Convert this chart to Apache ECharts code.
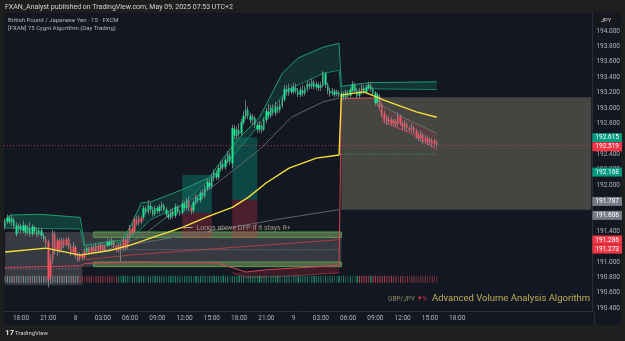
<!DOCTYPE html>
<html>
<head>
<meta charset="utf-8">
<script src="https://cdn.jsdelivr.net/npm/echarts@6/dist/echarts.min.js"></script>
<style>
html,body{margin:0;padding:0;background:#1e1e1e}
#main{width:625px;height:341px}
</style>
</head>
<body>
<div id="main"></div>
<script>
// GBPJPY 15m, slots are 15-minute bars; slot 0 = 16:15 of the 7th
const SLOTS = 259
const tickLabels = ['18:00','21:00','8','03:00','06:00','09:00','12:00','15:00','18:00','21:00','9','03:00','06:00','09:00','12:00','15:00','18:00']
const TICK_START = 7, TICK_STEP = 12

// [open, close, low, high, tone]  tone = bar colour from the algo (g / r)
const candles = [
[191.45,191.53,191.42,191.56,'g'],[191.52,191.58,191.49,191.62,'g'],[191.57,191.52,191.49,191.60,'g'],[191.51,191.57,191.47,191.61,'g'],
[191.55,191.47,191.43,191.58,'g'],[191.36,191.48,191.33,191.52,'g'],[191.47,191.42,191.38,191.50,'g'],[191.40,191.47,191.37,191.50,'g'],
[191.40,191.48,191.37,191.54,'g'],[191.47,191.38,191.34,191.50,'g'],[191.38,191.45,191.35,191.48,'g'],[191.44,191.36,191.33,191.52,'g'],
[191.36,191.46,191.34,191.49,'g'],[191.45,191.40,191.36,191.47,'g'],[191.41,191.36,191.32,191.44,'g'],[191.36,191.42,191.33,191.45,'g'],
[191.41,191.34,191.30,191.44,'g'],[191.34,191.30,191.26,191.38,'g'],
[191.30,191.24,191.20,191.33,'r'],[191.26,190.76,190.67,191.29,'r'],[190.80,191.02,190.72,191.10,'r'],[191.02,191.38,190.98,191.42,'r'],
[191.36,191.14,191.10,191.40,'r'],[191.15,191.28,191.08,191.31,'r'],[191.28,191.16,191.12,191.30,'r'],[191.18,191.29,191.14,191.32,'r'],
[191.29,191.22,191.18,191.31,'r'],[191.22,191.30,191.20,191.32,'r'],[191.30,191.20,191.16,191.33,'r'],[191.20,191.12,191.08,191.24,'r'],
[191.13,191.20,191.10,191.26,'r'],[191.19,191.08,191.04,191.22,'r'],[191.08,191.03,191.00,191.12,'r'],
[191.04,191.10,191.01,191.13,'r'],[191.09,191.05,191.02,191.12,'r'],[191.06,191.14,191.04,191.17,'r'],[191.13,191.18,191.10,191.21,'g'],
[191.17,191.12,191.10,191.20,'r'],[191.12,191.19,191.10,191.22,'r'],[191.19,191.14,191.12,191.22,'r'],[191.14,191.21,191.12,191.24,'r'],
[191.21,191.15,191.13,191.24,'r'],[191.15,191.22,191.13,191.25,'r'],[191.22,191.16,191.14,191.24,'r'],[191.16,191.21,191.13,191.23,'r'],
[191.21,191.26,191.19,191.30,'g'],[191.26,191.22,191.20,191.30,'g'],[191.22,191.28,191.20,191.32,'g'],[191.27,191.20,191.18,191.29,'r'],
[191.20,191.15,191.13,191.23,'r'],[191.15,191.22,191.12,191.25,'r'],[191.21,191.17,191.00,191.26,'r'],[191.17,191.30,191.14,191.33,'r'],
[191.29,191.18,191.15,191.32,'r'],
[191.20,191.34,191.17,191.37,'r'],[191.33,191.45,191.30,191.48,'r'],[191.44,191.38,191.34,191.50,'r'],[191.40,191.56,191.37,191.59,'r'],
[191.55,191.50,191.47,191.60,'r'],[191.50,191.58,191.47,191.61,'r'],[191.57,191.52,191.49,191.60,'r'],
[191.58,191.70,191.55,191.73,'g'],[191.69,191.65,191.62,191.72,'g'],[191.65,191.74,191.62,191.81,'g'],[191.73,191.68,191.64,191.77,'g'],
[191.68,191.62,191.59,191.72,'g'],[191.62,191.70,191.60,191.73,'g'],[191.70,191.66,191.63,191.73,'g'],[191.66,191.72,191.63,191.75,'g'],
[191.71,191.74,191.67,191.78,'g'],[191.73,191.68,191.65,191.76,'g'],[191.68,191.62,191.58,191.71,'g'],[191.62,191.58,191.55,191.66,'g'],
[191.58,191.66,191.55,191.69,'g'],[191.65,191.60,191.56,191.70,'g'],[191.60,191.72,191.57,191.76,'g'],[191.71,191.65,191.62,191.74,'g'],
[191.65,191.63,191.60,191.68,'g'],
[191.64,191.76,191.61,191.80,'g'],[191.75,191.70,191.66,191.79,'g'],[191.70,191.80,191.67,191.83,'g'],[191.79,191.70,191.66,191.85,'r'],
[191.70,191.66,191.62,191.74,'r'],[191.67,191.78,191.63,191.81,'g'],[191.77,191.84,191.74,191.88,'g'],[191.83,191.80,191.76,191.87,'g'],
[191.80,191.90,191.77,191.93,'g'],[191.89,191.86,191.82,191.95,'g'],[191.86,191.96,191.83,192.00,'g'],[191.95,192.04,191.92,192.08,'g'],
[192.03,191.98,191.95,192.07,'g'],[191.98,192.10,191.95,192.14,'g'],[192.09,192.16,192.05,192.20,'g'],[192.15,192.10,192.06,192.19,'g'],
[192.10,192.22,192.07,192.26,'g'],[192.21,192.28,192.17,192.31,'g'],[192.27,192.23,192.19,192.32,'g'],[192.23,192.33,192.20,192.36,'g'],
[192.32,192.39,192.28,192.44,'g'],[192.38,192.30,192.26,192.42,'g'],[192.28,192.74,192.22,192.78,'g'],
[192.73,192.64,192.60,192.78,'g'],[192.64,192.72,192.60,192.76,'g'],[192.71,192.66,192.62,192.80,'g'],[192.67,192.82,192.64,192.86,'g'],
[192.81,192.90,192.78,192.96,'g'],[192.89,192.98,192.85,193.10,'g'],[192.97,192.90,192.86,193.02,'g'],[192.90,192.84,192.80,192.94,'g'],
[192.85,192.88,192.78,192.92,'g'],[192.87,192.78,192.74,192.90,'g'],[192.78,192.72,192.68,192.82,'g'],[192.72,192.78,192.68,192.83,'g'],
[192.77,192.71,192.67,192.80,'g'],[192.72,192.85,192.70,192.88,'g'],[192.84,192.96,192.80,193.00,'g'],[192.95,192.90,192.86,193.05,'g'],
[192.90,193.00,192.87,193.04,'g'],[192.99,192.94,192.90,193.05,'g'],[192.94,193.02,192.90,193.08,'g'],[193.01,192.97,192.93,193.06,'g'],
[192.97,193.04,192.94,193.10,'g'],[193.03,193.12,193.00,193.16,'g'],[193.11,193.25,193.08,193.30,'g'],[193.24,193.20,193.16,193.29,'g'],
[193.20,193.26,193.16,193.32,'g'],[193.25,193.21,193.18,193.30,'g'],[193.21,193.27,193.18,193.33,'g'],[193.26,193.22,193.19,193.32,'g'],
[193.22,193.17,193.14,193.26,'g'],[193.17,193.24,193.14,193.28,'g'],[193.23,193.19,193.15,193.30,'g'],[193.19,193.25,193.16,193.29,'g'],
[193.24,193.32,193.21,193.36,'g'],[193.31,193.28,193.24,193.35,'g'],[193.28,193.34,193.25,193.38,'g'],[193.33,193.27,193.24,193.37,'g'],
[193.27,193.31,193.23,193.35,'g'],[193.30,193.26,193.22,193.33,'g'],[193.26,193.30,193.22,193.34,'g'],[193.29,193.46,193.27,193.48,'g'],
[193.45,193.30,193.26,193.47,'g'],[193.30,193.22,193.18,193.33,'g'],[193.22,193.19,193.15,193.26,'g'],[193.19,193.23,193.16,193.26,'g'],
[193.22,193.17,193.14,193.25,'g'],[193.18,193.21,193.15,193.24,'g'],[193.20,193.17,193.14,193.23,'g'],
[193.14,193.19,193.10,193.22,'g'],[193.18,193.14,193.10,193.21,'g'],[193.14,193.20,193.11,193.24,'g'],[193.19,193.16,193.12,193.23,'g'],
[193.16,193.24,193.13,193.27,'g'],[193.23,193.31,193.20,193.35,'g'],[193.30,193.22,193.19,193.33,'g'],[193.22,193.16,193.13,193.26,'g'],
[193.16,193.22,193.13,193.26,'g'],[193.21,193.26,193.18,193.31,'r'],[193.26,193.21,193.18,193.30,'g'],[193.21,193.27,193.18,193.31,'g'],
[193.26,193.30,193.23,193.34,'g'],[193.29,193.24,193.21,193.33,'g'],[193.24,193.19,193.16,193.27,'g'],[193.20,193.06,193.03,193.22,'g'],
[193.07,193.17,193.02,193.20,'g'],[193.15,193.03,192.99,193.18,'r'],
[193.04,192.92,192.88,193.07,'r'],[192.93,192.86,192.82,192.97,'r'],[192.87,192.82,192.78,192.90,'r'],[192.82,192.86,192.79,192.90,'r'],
[192.85,192.80,192.77,192.88,'r'],[192.80,192.83,192.76,192.86,'r'],[192.83,192.78,192.75,192.86,'r'],[192.79,192.90,192.76,192.95,'r'],
[192.89,192.80,192.77,192.92,'r'],[192.80,192.76,192.72,192.83,'r'],[192.76,192.80,192.72,192.84,'r'],[192.79,192.74,192.70,192.82,'r'],
[192.74,192.72,192.69,192.77,'r'],[192.72,192.75,192.68,192.80,'r'],[192.74,192.70,192.66,192.77,'r'],[192.70,192.64,192.60,192.73,'r'],
[192.65,192.61,192.57,192.69,'r'],[192.61,192.66,192.56,192.71,'r'],[192.65,192.57,192.53,192.68,'r'],[192.58,192.61,192.54,192.65,'r'],
[192.60,192.55,192.51,192.64,'r'],[192.56,192.59,192.52,192.62,'r'],[192.58,192.53,192.49,192.61,'r'],[192.54,192.57,192.50,192.60,'r'],
[192.56,192.52,192.49,192.59,'r']
]

// indicator lines as [slot, price] key points
const yellowLine = [[0,191.13],[18,191.18],[33,191.09],[46,191.15],[55,191.22],[66,191.33],[78,191.45],[90,191.60],[100,191.71],[107,191.84],[115,192.03],[125,192.22],[137,192.35],[147,192.39],[148,193.17],[158,193.21],[167,193.10],[181,192.95],[190,192.88]]
const outerGreen1 = [[0,191.54],[2,191.61],[15,191.62],[33,191.58]]
const innerGreen1 = [[0,191.44],[33,191.43]]
const outerGreen2 = [[35,191.22],[52,191.29],[56,191.52],[60,191.77],[64,191.78],[78,191.94],[90,192.10],[93,192.23],[102,192.58],[112,192.88],[122,193.45],[129,193.65],[140,193.79],[147,193.84]]
const innerGreen2 = [[35,191.16],[55,191.29],[64,191.55],[78,191.74],[99,192.33],[109,192.68],[124,193.23],[140,193.45],[147,193.49]]
const outerGreen3 = [[148,193.28],[160,193.33],[190,193.34]]
const innerGreen3 = [[148,193.20],[160,193.25],[190,193.24]]
const grayMid = [[42,191.13],[59,191.31],[78,191.74],[91,191.97],[112,192.46],[126,192.88],[140,193.08],[147,193.13]]
const grayLow = [[55,191.22],[80,191.35],[100,191.45],[119,191.55],[147,191.68]]
const grayChannel = [[165,193.05],[175,192.88],[190,192.67]]
const redUpper = [[35,191.03],[55,191.09],[86,191.16],[129,191.25],[147,191.29]]
const redLower1 = [[0,190.93],[33,190.95]]
const redLower2 = [[35,190.98],[55,191.00],[93,190.99],[106,190.87],[115,190.90],[138,190.94],[147,190.96]]
const redLower3 = [[148,193.12],[163,193.13],[167,192.81],[178,192.68],[190,192.46]]
const redFloor = [[100,190.86],[106,190.80],[120,190.81],[147,190.86]]

// dotted levels [fromSlot, toSlot, price]
const levels = [[0,33,190.91],[34,147,191.16],[148,190,192.40]]
const lastPrice = 192.519

// boxes [fromSlot, toSlot, top, bottom]
const grayZones = [[0,34,191.39,190.70],[34,148,191.39,190.94]]
const rangeBox = [148,258,193.14,191.68]
const greenBars = [[39,148,191.39,191.32],[39,148,191.00,190.94]]
const targetBoxes = [[78,91,192.13,191.64],[100,111,192.62,191.81]]
const stopBoxes = [[78,91,191.64,191.31],[100,111,191.81,191.31]]

// axis tags
const tagValues = [192.615,192.519,192.168,191.787,191.606,191.286,191.273]
const tagKinds  = ['g','r','g','n','n','r','r']
const priceTicks = [190.4,190.6,190.8,191.0,191.4,192.0,192.2,192.4,192.8,193.0,193.2,193.4,193.6,193.8,194.0]

// volume strip tone per candle
const volTone =
  'ababbababaababababababababababbab' +
  'rrdrrrdrrrrdrrrdr' +
  'ggGgghgggGgghgg' + 'gGgggghgGgggghg' + 'ggghGgggghggGgg' + 'gGgghgggGgghggg' +
  'ggGggghgggGghgg' + 'ghggGgggghgGggg' + 'hghgghhGhghhghh' +
  'GRRRRrGRRrRRRrrRrrdrrdrdrrddrdrddrdd'

const Y_MIN = 190.364, Y_MAX = 194.234
const STRIP_PRICE = 190.775
const TAG_GAP = 0.118
const toneColor = { g: '#1fe690', r: '#f7525f' }
const volColor = { a: '#6a9f98', b: '#c49aa3', r: '#b3414f', d: '#73303d', g: '#1d9a73', G: '#22e68f', h: '#1a6150', R: '#e24a58' }
const tagColor = { g: '#089981', r: '#f23645', n: '#787b86' }

const chart = echarts.init(document.getElementById('main'))

const slotNames = []
for (let i = 0; i < SLOTS; i++) slotNames.push(String(i))

const bandSeries = (upper, lower, color) => ({
  type: 'custom', silent: true, z: 2,
  data: [[0, 191]],
  renderItem: (params, api) => {
    const pts = upper.map(p => api.coord(p)).concat(lower.slice().reverse().map(p => api.coord(p)))
    return { type: 'polygon', shape: { points: pts }, style: { fill: color } }
  }
})

const lineSeries = (data, color, width, z) => ({
  type: 'line', data, showSymbol: false, silent: true, z: z || 3,
  lineStyle: { color, width: width || 1 }
})

const box = (b, color, border) => [
  { xAxis: b[0], yAxis: b[2], itemStyle: { color, borderColor: border || 'transparent', borderWidth: border ? 1 : 0 } },
  { xAxis: b[1], yAxis: b[3] }
]

// spread tags that would overlap on the axis
const tagPos = []
tagValues.forEach((v, i) => {
  let p = v
  if (i > 0 && tagPos[i - 1] - p < TAG_GAP) p = tagPos[i - 1] - TAG_GAP
  tagPos.push(p)
})

const rich = {}
Object.keys(tagColor).forEach(k => {
  rich[k] = { backgroundColor: tagColor[k], color: '#ffffff', fontSize: 6.5, fontFamily: 'Roboto', padding: [1, 3, 1, 3] }
})

const option = {
  backgroundColor: '#1e1e1e',
  animation: false,
  grid: { left: 4, right: 31, top: 13, bottom: 30 },
  xAxis: {
    type: 'category', data: slotNames, boundaryGap: true,
    axisLine: { lineStyle: { color: '#2a2e39' } },
    axisTick: { show: false },
    splitLine: { show: false },
    axisLabel: {
      color: '#b2b5be', fontSize: 6.5, fontFamily: 'Roboto', margin: 4,
      interval: i => i >= TICK_START && (i - TICK_START) % TICK_STEP === 0 && (i - TICK_START) / TICK_STEP < tickLabels.length,
      formatter: (v, i) => tickLabels[(i - TICK_START) / TICK_STEP] || ''
    }
  },
  yAxis: [{
    type: 'value', position: 'right', min: Y_MIN, max: Y_MAX, scale: true,
    axisLine: { show: true, lineStyle: { color: '#2a2e39' } },
    axisTick: { show: false },
    splitLine: { show: false },
    axisLabel: {
      customValues: priceTicks, color: '#b2b5be', fontSize: 6.5, fontFamily: 'Roboto', margin: 4,
      formatter: v => v.toFixed(3)
    }
  }, {
    type: 'value', position: 'right', min: Y_MIN, max: Y_MAX,
    axisLine: { show: false }, axisTick: { show: false }, splitLine: { show: false },
    axisLabel: {
      customValues: tagPos, margin: 0, rich, hideOverlap: false,
      formatter: v => {
        const i = tagPos.findIndex(t => Math.abs(t - v) < 1e-6)
        return i < 0 ? '' : '{' + tagKinds[i] + '|' + tagValues[i].toFixed(3) + '}'
      }
    }
  }],
  graphic: [
    { type: 'rect', z: -10, shape: { x: 4, y: 13, width: 617, height: 312 }, style: { fill: '#131722' } },
    { type: 'text', z: 100, x: 5, y: 7, style: { text: 'FXAN_Analyst published on TradingView.com, May 09, 2025 07:53 UTC+2', fill: '#d1d4dc', font: '7px Roboto', verticalAlign: 'middle' } },
    { type: 'text', z: 100, x: 8, y: 20, style: { text: 'British Pound / Japanese Yen · 15 · FXCM', fill: '#b2b5be', font: '6px Roboto', verticalAlign: 'middle' } },
    { type: 'text', z: 100, x: 8, y: 28, style: { text: '[FXAN] 75 Cygni Algorithm (Day Trading)', fill: '#b2b5be', font: '6px Roboto', verticalAlign: 'middle' } },
    { type: 'rect', z: 100, shape: { x: 595, y: 15, width: 23, height: 11 }, style: { fill: '#17181c' } },
    { type: 'text', z: 101, x: 606, y: 20.5, style: { text: 'JPY', fill: '#d1d4dc', font: '6px Roboto', align: 'center', verticalAlign: 'middle' } },
    { type: 'text', z: 100, x: 183, y: 228, style: { text: '\u27f5  Longs above DFP if it stays R+', fill: '#a09c86', font: '7px Roboto', verticalAlign: 'middle' } },
    { type: 'text', z: 100, x: 388, y: 299, style: { text: 'GBP/JPY', fill: '#8f8a62', font: '6.5px Roboto', verticalAlign: 'middle' } },
    { type: 'text', z: 100, x: 417, y: 299, style: { text: '\u25bc%', fill: '#f23645', font: '5.5px Roboto', verticalAlign: 'middle' } },
    { type: 'text', z: 100, x: 432, y: 299, style: { text: 'Advanced Volume Analysis Algorithm', fill: '#bfae55', font: '9.5px Roboto', verticalAlign: 'middle' } },
    { type: 'line', z: 100, shape: { x1: 594.5, y1: 311, x2: 594.5, y2: 325 }, style: { stroke: '#2a2e39' } },
    { type: 'text', z: 100, x: 5, y: 333, style: { text: '17', fill: '#d1d4dc', font: 'bold 8px Roboto', verticalAlign: 'middle' } },
    { type: 'text', z: 100, x: 15, y: 333, style: { text: 'TradingView', fill: '#d1d4dc', font: '6px Roboto', verticalAlign: 'middle' } }
  ],
  series: [
    {
      type: 'line', data: [], z: 1, silent: true,
      markArea: {
        silent: true,
        data: [
          ...grayZones.map(b => box(b, 'rgba(120,122,120,0.36)')),
          box(rangeBox, 'rgba(120,118,95,0.5)'),
          ...greenBars.map(b => box(b, 'rgba(110,160,90,0.45)', '#5d9e4f')),
          ...targetBoxes.map(b => box(b, 'rgba(8,153,129,0.38)')),
          ...stopBoxes.map(b => box(b, 'rgba(200,50,70,0.32)'))
        ]
      }
    },
    bandSeries(outerGreen1, innerGreen1, 'rgba(20,160,120,0.28)'),
    bandSeries(outerGreen2, innerGreen2, 'rgba(20,160,120,0.18)'),
    bandSeries(outerGreen3, innerGreen3, 'rgba(20,160,120,0.22)'),
    bandSeries(redLower2.slice(3), redFloor, 'rgba(190,40,60,0.25)'),
    bandSeries(grayChannel, redLower3.slice(2), 'rgba(190,40,60,0.18)'),
    lineSeries(outerGreen1.concat(outerGreen2, outerGreen3), '#1e9e6c'),
    lineSeries(innerGreen1.concat(innerGreen2, innerGreen3), '#17865d'),
    lineSeries(grayMid, '#5f636d'),
    lineSeries(grayLow, '#5f636d'),
    lineSeries(grayChannel, '#6b6f79'),
    lineSeries(redUpper, '#b03a48'),
    lineSeries(redLower1.concat(redLower2, redLower3), '#d04454'),
    lineSeries(redFloor, '#8a2f3e'),
    ...levels.map((l, i) => ({
      type: 'line', data: [[l[0], l[2]], [l[1], l[2]]], showSymbol: false, silent: true, z: 3,
      lineStyle: { color: i === 2 ? '#4caf50' : '#8a8d96', width: 1, type: [1, 2] }
    })),
    {
      type: 'scatter', silent: true, z: 4, symbol: 'rect', symbolSize: [1, 7],
      data: volTone.split('').map((t, i) => ({ value: [i, STRIP_PRICE], itemStyle: { color: volColor[t] } }))
    },
    lineSeries(yellowLine, '#f5df3a', 1.4, 6),
    {
      type: 'candlestick', z: 5, silent: true, barWidth: 1,
      data: candles.map(c => [c[0], c[1], c[2], c[3]]),
      itemStyle: { color: '#878b96', color0: '#878b96', borderColor: '#878b96', borderColor0: '#878b96', borderWidth: 0.8 }
    },
    {
      type: 'candlestick', z: 5, silent: true, barWidth: '85%',
      data: candles.map(c => {
        const col = toneColor[c[4]]
        return {
          value: [c[0], c[1], Math.min(c[0], c[1]), Math.max(c[0], c[1])],
          itemStyle: { color: col, color0: col, borderColor: col, borderColor0: col, borderWidth: 0 }
        }
      }),
      markLine: {
        silent: true, symbol: 'none', label: { show: false },
        lineStyle: { color: '#f23645', width: 1, type: [1, 2], opacity: 0.7 },
        data: [{ yAxis: lastPrice }]
      }
    }
  ]
}

chart.setOption(option)
</script>
</body>
</html>
